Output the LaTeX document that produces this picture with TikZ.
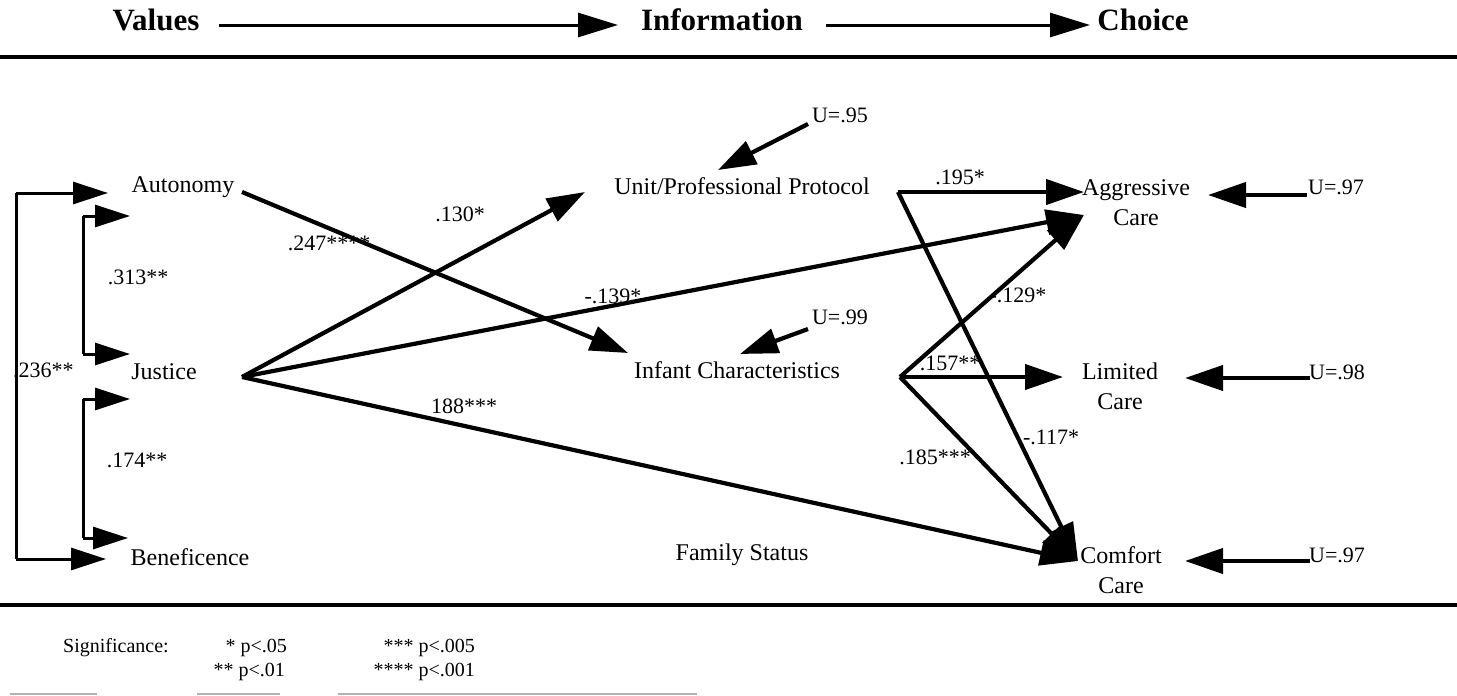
\documentclass[tikz,border=0pt]{standalone}
\usepackage{fontspec}
\setmainfont{Liberation Serif}
\usetikzlibrary{arrows.meta}
\begin{document}
\begin{tikzpicture}[x=1pt,y=-1pt,
  txt/.style={font=\fontsize{24}{30}\selectfont, inner sep=0pt, align=center},
  hdr/.style={font=\bfseries\fontsize{31}{34}\selectfont, inner sep=0pt},
  lbl/.style={font=\fontsize{22}{26}\selectfont, inner sep=0pt},
  leg/.style={font=\fontsize{20}{24}\selectfont, inner sep=0pt},
  conn/.style={line width=4.2pt, -{Triangle[length=38pt,width=25pt]}},
  hconn/.style={line width=3pt, -{Triangle[length=40pt,width=24pt]}},
  bconn/.style={line width=3pt, -{Triangle[length=35pt,width=22pt]}},
  brk/.style={line width=3pt},
  rule/.style={line width=4.5pt},
]
\useasboundingbox (0,0) rectangle (1457,696);

% header
\node[hdr] (values) at (156,20) {Values};
\node[hdr] (info) at (722,20) {Information};
\node[hdr] (choice) at (1143,20) {Choice};
\coordinate (h1s) at (219,25); \coordinate (h1e) at (618,25);
\coordinate (h2s) at (826,25); \coordinate (h2e) at (1090,25);
\draw[hconn] (h1s) -- (h1e);
\draw[hconn] (h2s) -- (h2e);
\coordinate (r1a) at (0,57); \coordinate (r1b) at (1457,57);
\draw[rule] (r1a) -- (r1b);
\coordinate (r2a) at (0,605); \coordinate (r2b) at (1457,605);
\draw[rule] (r2a) -- (r2b);

% values nodes
\node[txt] (aut) at (183,187) {Autonomy};
\node[txt] (jus) at (164,372) {Justice};
\node[txt] (ben) at (190,557) {Beneficence};

% information nodes
\node[txt] (unit) at (742,186) {Unit/Professional Protocol};
\node[txt] (inf) at (737,370) {Infant Characteristics};
\node[txt] (fam) at (742,555) {Family Status};

% choice nodes
\node[txt] (agg) at (1136,203) {Aggressive\\Care};
\node[txt] (lim) at (1120,386) {Limited\\Care};
\node[txt] (com) at (1121,570) {Comfort\\Care};

% brackets
\coordinate (bo1) at (16,193); \coordinate (bo2) at (16,559);
\coordinate (bo1e) at (108,193); \coordinate (bo2e) at (106,559);
\draw[brk] (bo1) -- (bo2);
\draw[bconn] (bo1) -- (bo1e);
\draw[bconn] (bo2) -- (bo2e);
\node[lbl, anchor=west] (l236) at (13,370) {.236**};

\coordinate (bi1) at (83,216); \coordinate (bi2) at (83,354);
\coordinate (bi1e) at (130,216); \coordinate (bi2e) at (130,354);
\draw[brk] (bi1) -- (bi2);
\draw[bconn] (bi1) -- (bi1e);
\draw[bconn] (bi2) -- (bi2e);
\node[lbl] (l313) at (138,277) {.313**};

\coordinate (bj1) at (83,399); \coordinate (bj2) at (83,538);
\coordinate (bj1e) at (130,399); \coordinate (bj2e) at (128,538);
\draw[brk] (bj1) -- (bj2);
\draw[bconn] (bj1) -- (bj1e);
\draw[bconn] (bj2) -- (bj2e);
\node[lbl] (l174) at (137,460) {.174**};

% connector endpoints
\coordinate (autout) at (242,192);
\coordinate (infin) at (628,353);
\coordinate (jout) at (242,377);
\coordinate (unitin) at (585,192);
\coordinate (aggin1) at (1084,192);
\coordinate (aggin2) at (1084,215);
\coordinate (comin) at (1078,561);
\coordinate (unitout) at (898,192);
\coordinate (infout) at (900,377);
\coordinate (limin) at (1063,377);

\draw[conn] (autout) -- (infin);
\node[lbl] (l130) at (460,214) {.130*};
\draw[conn] (jout) -- (unitin);
\node[lbl] (l247) at (329,243) {.247****};
\draw[conn] (jout) -- (aggin2);
\node[lbl] (l139) at (613,296) {-.139*};
\draw[conn] (jout) -- (comin);
\node[lbl] (l188) at (464,406) {188***};
\draw[conn] (unitout) -- (aggin1);
\node[lbl] (l195) at (960,177) {.195*};
\draw[conn] (unitout) -- (comin);
\node[lbl] (l117) at (1051,437) {-.117*};
\draw[conn] (infout) -- (aggin2);
\node[lbl] (l129) at (1018,295) {-.129*};
\draw[conn] (infout) -- (limin);
\node[lbl] (l157) at (950,363) {.157**};
\draw[conn] (infout) -- (comin);
\node[lbl] (l185) at (935,457) {.185***};

% residual terms
\node[lbl] (u95) at (840,115) {U=.95};
\coordinate (u95s) at (808,124); \coordinate (u95e) at (718,170);
\draw[conn] (u95s) -- (u95e);
\node[lbl] (u99) at (840,317) {U=.99};
\coordinate (u99s) at (808,329); \coordinate (u99e) at (740,354);
\draw[conn] (u99s) -- (u99e);
\node[lbl] (u97a) at (1336,187) {U=.97};
\coordinate (u97as) at (1307,195); \coordinate (u97ae) at (1208,195);
\draw[conn] (u97as) -- (u97ae);
\node[lbl] (u98) at (1337,372) {U=.98};
\coordinate (u98s) at (1310,378); \coordinate (u98e) at (1185,378);
\draw[conn] (u98s) -- (u98e);
\node[lbl] (u97b) at (1337,555) {U=.97};
\coordinate (u97bs) at (1310,561); \coordinate (u97be) at (1185,561);
\draw[conn] (u97bs) -- (u97be);

% legend
\node[leg, anchor=west] (sig) at (63,648) {Significance:};
\node[leg, anchor=east] (s1) at (287,648) {* p<.05};
\node[leg, anchor=east] (s3) at (475,648) {*** p<.005};
\node[leg, anchor=east] (s2) at (285,672) {** p<.01};
\node[leg, anchor=east] (s4) at (475,672) {**** p<.001};

% faint scan line at bottom
\coordinate (f1) at (10,694); \coordinate (f2) at (97,694);
\coordinate (f3) at (197,694); \coordinate (f4) at (280,694);
\coordinate (f5) at (338,694); \coordinate (f6) at (697,694);
\draw[gray!60, line width=2pt] (f1) -- (f2) (f3) -- (f4) (f5) -- (f6);
\end{tikzpicture}
\end{document}
